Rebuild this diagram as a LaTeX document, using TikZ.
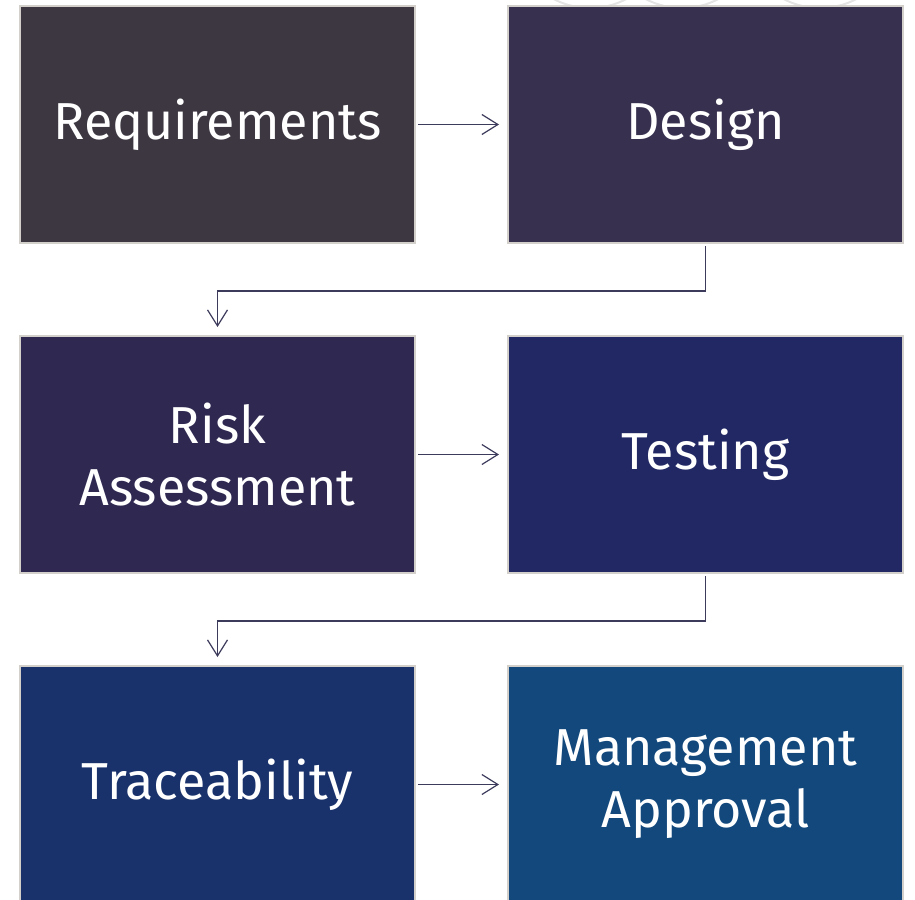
\documentclass[tikz,border=0pt]{standalone}
\usepackage{fontspec}
\setmainfont{Fira Sans}
\usetikzlibrary{arrows.meta}
\definecolor{cA}{HTML}{3D3742}
\definecolor{cB}{HTML}{38304F}
\definecolor{cC}{HTML}{2F2952}
\definecolor{cD}{HTML}{222864}
\definecolor{cE}{HTML}{19326C}
\definecolor{cF}{HTML}{12487C}
\definecolor{edge}{HTML}{D3CFCA}
\definecolor{conn}{HTML}{3C3B5C}
\definecolor{ring}{HTML}{E4E4E4}
\tikzset{
  box/.style={draw=edge, line width=2pt, minimum width=395pt, minimum height=237pt,
    text=white, align=center, font=\fontsize{52}{62}\selectfont, inner sep=0pt},
  conn/.style={draw=conn, line width=1.2pt, -{Straight Barb[length=16pt,width=20pt,line width=1.2pt]}},
}
\begin{document}
\begin{tikzpicture}[x=1pt,y=-1pt]
\useasboundingbox (0,0) rectangle (915,899);
\begin{scope}
\clip (0,0) rectangle (915,899);
\draw[ring, line width=2pt] (590,-70) circle (78);
\draw[ring, line width=2pt] (682,-70) circle (78);
\draw[ring, line width=2pt] (820,-70) circle (78);
\node[box, fill=cA] (req) at (217.5,124.5) {Requirements};
\node[box, fill=cB] (des) at (705.5,124.5) {Design};
\node[box, fill=cC] (risk) at (217.5,454.5) {Risk\\Assessment};
\node[box, fill=cD] (test) at (705.5,454.5) {Testing};
\node[box, fill=cE] (trace) at (217.5,784.5) {Traceability};
\node[box, fill=cF] (mgmt) at (705.5,784.5) {Management\\Approval};
\end{scope}
\draw[conn] ([xshift=2pt]req.east) -- ([xshift=-8pt]des.west);
\draw[conn] ([xshift=2pt]risk.east) -- ([xshift=-8pt]test.west);
\draw[conn] ([xshift=2pt]trace.east) -- ([xshift=-8pt]mgmt.west);
\draw[conn] ([yshift=-2pt]des.south) -- ++(0,45) -| ([yshift=8pt]risk.north);
\draw[conn] ([yshift=-2pt]test.south) -- ++(0,45) -| ([yshift=8pt]trace.north);
\end{tikzpicture}
\end{document}
